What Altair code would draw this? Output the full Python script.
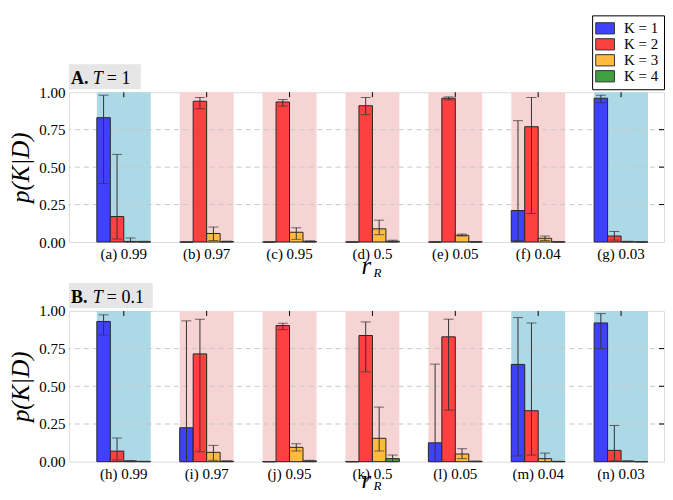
import altair as alt
import pandas as pd

SERIF = "'Liberation Serif', 'Times New Roman', Times, 'DejaVu Serif', serif"
K_LEVELS = ["1", "2", "3", "4"]
K_COLORS = ["#4040ff", "#ff4040", "#ffbb40", "#40a040"]
SHADE_LEVELS = ["1", "2"]
SHADE_COLORS = ["#add8e6", "#f7d4d4"]
Y_TICKS = [0, 0.25, 0.5, 0.75, 1.0]
GRID_VALS = [0.25, 0.5, 0.75]

# ---------------- Panel A (T = 1) ----------------
labels_A = ["(a) 0.99", "(b) 0.97", "(c) 0.95", "(d) 0.5", "(e) 0.05", "(f) 0.04", "(g) 0.03"]
shade_A = ["1", "2", "2", "2", "2", "2", "1"]
k1_A = [0.83, 0.0, 0.0, 0.0, 0.0, 0.21, 0.96]
k1_A_lo = [0.39, 0.0, 0.0, 0.0, 0.0, 0.01, 0.93]
k1_A_hi = [0.98, 0.0, 0.0, 0.0, 0.0, 0.81, 0.98]
k2_A = [0.17, 0.94, 0.935, 0.91, 0.96, 0.77, 0.04]
k2_A_lo = [0.02, 0.89, 0.907, 0.85, 0.949, 0.19, 0.013]
k2_A_hi = [0.585, 0.965, 0.951, 0.965, 0.969, 0.965, 0.07]
k3_A = [0.004, 0.057, 0.065, 0.088, 0.045, 0.025, 0.002]
k3_A_lo = [0.0, 0.01, 0.018, 0.049, 0.04, 0.01, 0.0]
k3_A_hi = [0.027, 0.10, 0.095, 0.146, 0.053, 0.04, 0.005]
k4_A = [0.001, 0.003, 0.004, 0.005, 0.001, 0.001, 0.0]
k4_A_lo = [0.0, 0.0, 0.0, 0.0, 0.0, 0.0, 0.0]
k4_A_hi = [0.005, 0.006, 0.008, 0.012, 0.002, 0.003, 0.0]

# ---------------- Panel B (T = 0.1) ----------------
labels_B = ["(h) 0.99", "(i) 0.97", "(j) 0.95", "(k) 0.5", "(l) 0.05", "(m) 0.04", "(n) 0.03"]
shade_B = ["1", "2", "2", "2", "2", "1", "1"]
k1_B = [0.93, 0.225, 0.0, 0.0, 0.125, 0.645, 0.92]
k1_B_lo = [0.84, 0.0, 0.0, 0.0, 0.0, 0.038, 0.75]
k1_B_hi = [0.974, 0.934, 0.0, 0.0, 0.647, 0.956, 0.982]
k2_B = [0.07, 0.715, 0.903, 0.837, 0.828, 0.338, 0.075]
k2_B_lo = [0.011, 0.066, 0.876, 0.596, 0.342, 0.044, 0.007]
k2_B_hi = [0.157, 0.945, 0.918, 0.927, 0.945, 0.92, 0.24]
k3_B = [0.004, 0.062, 0.095, 0.155, 0.051, 0.02, 0.003]
k3_B_lo = [0.0, 0.009, 0.071, 0.071, 0.02, 0.0, 0.0]
k3_B_hi = [0.008, 0.108, 0.119, 0.362, 0.086, 0.057, 0.006]
k4_B = [0.001, 0.003, 0.005, 0.02, 0.002, 0.001, 0.0]
k4_B_lo = [0.0, 0.0, 0.0, 0.0, 0.0, 0.0, 0.0]
k4_B_hi = [0.003, 0.006, 0.009, 0.044, 0.004, 0.003, 0.0]

title_A = ["A.", "T", "= 1"]
title_B = ["B.", "T", "= 0.1"]
x_title = ["r", "R"]
y_title = "p(K|D)"
legend_prefix = "K = "

W = 596
H_A = 150
H_B = 151


def long_df(labels, vals, los, his):
    rows = []
    for ki, k in enumerate(K_LEVELS):
        for gi, g in enumerate(labels):
            rows.append(dict(group=g, K=k, value=vals[ki][gi], lo=los[ki][gi], hi=his[ki][gi]))
    return pd.DataFrame(rows)


def panel(labels, shades, vals, los, his, title_parts, box_w, H, show_legend, xt_base, xt_y):
    df = long_df(labels, vals, los, his)
    shade_df = pd.DataFrame({"group": labels, "shade": shades})
    xscale = alt.Scale(paddingInner=0.35, paddingOuter=0.265, align=0.636)
    yscale = alt.Scale(domain=[0, 1], nice=False, zero=True)
    x_ax = alt.Axis(labelAngle=0, labelFont=SERIF, labelFontSize=15,
                    labelColor="black", ticks=False, domain=False,
                    labelPadding=5, grid=False, title=None)
    y_ax = alt.Axis(values=Y_TICKS, format=".2f", title=y_title,
                    titleFont=SERIF, titleFontSize=25, titleFontStyle="italic",
                    titleFontWeight="normal", titleColor="black", titlePadding=5,
                    labelFont=SERIF, labelFontSize=15, labelColor="black",
                    labelPadding=4, ticks=False, domain=False, grid=False)

    def X():
        return alt.X("group:N", sort=labels, scale=xscale, axis=x_ax, title=None)

    def Y(field):
        return alt.Y(field, scale=yscale, axis=y_ax, title=y_title)

    xoff = alt.XOffset("K:N", sort=K_LEVELS, scale=alt.Scale(paddingInner=0, paddingOuter=0))

    shade = alt.Chart(shade_df).mark_rect().encode(
        x=X(), y=alt.value(0), y2=alt.value(H),
        fill=alt.Fill("shade:N", scale=alt.Scale(domain=SHADE_LEVELS, range=SHADE_COLORS), legend=None),
    )
    grid = alt.Chart(pd.DataFrame({"t": GRID_VALS})).mark_rule(
        color="#c8c8c8", strokeDash=[5, 4], strokeWidth=1
    ).encode(y=Y("t:Q"))

    if show_legend:
        legend = alt.Legend(
            title=None, orient="none", legendX=W - 72, legendY=-77,
            labelExpr=f"'{legend_prefix}' + datum.label",
            labelFont=SERIF, labelFontSize=15, labelColor="black",
            symbolType="M-1.25,-0.75H1.25V0.75H-1.25Z", symbolSize=225,
            symbolStrokeColor="#333333", symbolStrokeWidth=1, symbolOpacity=1,
            strokeColor="black", fillColor="white", padding=5, rowPadding=0,
            labelOffset=11, cornerRadius=0,
        )
    else:
        legend = None

    bars = alt.Chart(df).mark_bar(stroke="#262626", strokeWidth=1, opacity=1).encode(
        x=X(), xOffset=xoff, y=Y("value:Q"),
        color=alt.Color("K:N", scale=alt.Scale(domain=K_LEVELS, range=K_COLORS), legend=legend),
    )
    err = alt.Chart(df).mark_rule(color="#333333", strokeWidth=1).encode(
        x=X(), xOffset=xoff, y=Y("lo:Q"), y2="hi:Q",
    )
    cap_lo = alt.Chart(df).mark_tick(color="#333333", thickness=1, size=10, orient="horizontal").encode(
        x=X(), xOffset=xoff, y=Y("lo:Q"))
    cap_hi = alt.Chart(df).mark_tick(color="#333333", thickness=1, size=10, orient="horizontal").encode(
        x=X(), xOffset=xoff, y=Y("hi:Q"))

    top_ticks = alt.Chart(shade_df).mark_rule(color="black", strokeWidth=1).encode(
        x=X(), y=alt.value(0), y2=alt.value(5))
    right_ticks = alt.Chart(pd.DataFrame({"t": GRID_VALS})).mark_rule(color="black", strokeWidth=1).encode(
        y=Y("t:Q"), x=alt.value(W - 5), x2=alt.value(W))

    box = alt.Chart(pd.DataFrame({"a": [0]})).mark_rect(fill="#e6e6e6").encode(
        x=alt.value(0), x2=alt.value(box_w), y=alt.value(-28), y2=alt.value(-3))
    t1 = alt.Chart(pd.DataFrame({"s": [title_parts[0]]})).mark_text(
        align="left", baseline="alphabetic", font=SERIF, fontSize=18, fontWeight="bold", color="black"
    ).encode(text="s:N", x=alt.value(2), y=alt.value(-8))
    t2 = alt.Chart(pd.DataFrame({"s": [title_parts[1]]})).mark_text(
        align="left", baseline="alphabetic", font=SERIF, fontSize=18, fontStyle="italic", color="black"
    ).encode(text="s:N", x=alt.value(24), y=alt.value(-8))
    t3 = alt.Chart(pd.DataFrame({"s": [title_parts[2]]})).mark_text(
        align="left", baseline="alphabetic", font=SERIF, fontSize=18, color="black"
    ).encode(text="s:N", x=alt.value(38), y=alt.value(-8))

    xr = alt.Chart(pd.DataFrame({"s": [x_title[0]]})).mark_text(
        align="left", baseline=xt_base, font=SERIF, fontSize=25, fontStyle="italic", color="black"
    ).encode(text="s:N", x=alt.value(W / 2 - 5), y=alt.value(H + xt_y))
    xR = alt.Chart(pd.DataFrame({"s": [x_title[1]]})).mark_text(
        align="left", baseline=xt_base, font=SERIF, fontSize=13, fontStyle="italic", color="black"
    ).encode(text="s:N", x=alt.value(W / 2 + 7), y=alt.value(H + xt_y + 3 if xt_base == "alphabetic" else H + xt_y))

    return alt.layer(shade, grid, bars, err, cap_lo, cap_hi, top_ticks, right_ticks,
                     box, t1, t2, t3, xr, xR).properties(width=W, height=H)


pA = panel(labels_A, shade_A, [k1_A, k2_A, k3_A, k4_A], [k1_A_lo, k2_A_lo, k3_A_lo, k4_A_lo],
           [k1_A_hi, k2_A_hi, k3_A_hi, k4_A_hi], title_A, 72, H_A, True, "alphabetic", 32)
pB = panel(labels_B, shade_B, [k1_B, k2_B, k3_B, k4_B], [k1_B_lo, k2_B_lo, k3_B_lo, k4_B_lo],
           [k1_B_hi, k2_B_hi, k3_B_hi, k4_B_hi], title_B, 84, H_B, False, "bottom", 31)

chart = alt.vconcat(pA, pB, spacing=1).resolve_scale(
    x="independent", xOffset="independent", color="independent", fill="independent"
).properties(
    padding={"left": 0, "top": 6, "right": 0, "bottom": 0}
).configure_view(stroke="black", strokeWidth=1.3).configure(background="white")

chart.save("out.html", embed_options={"renderer": "svg", "actions": False})
